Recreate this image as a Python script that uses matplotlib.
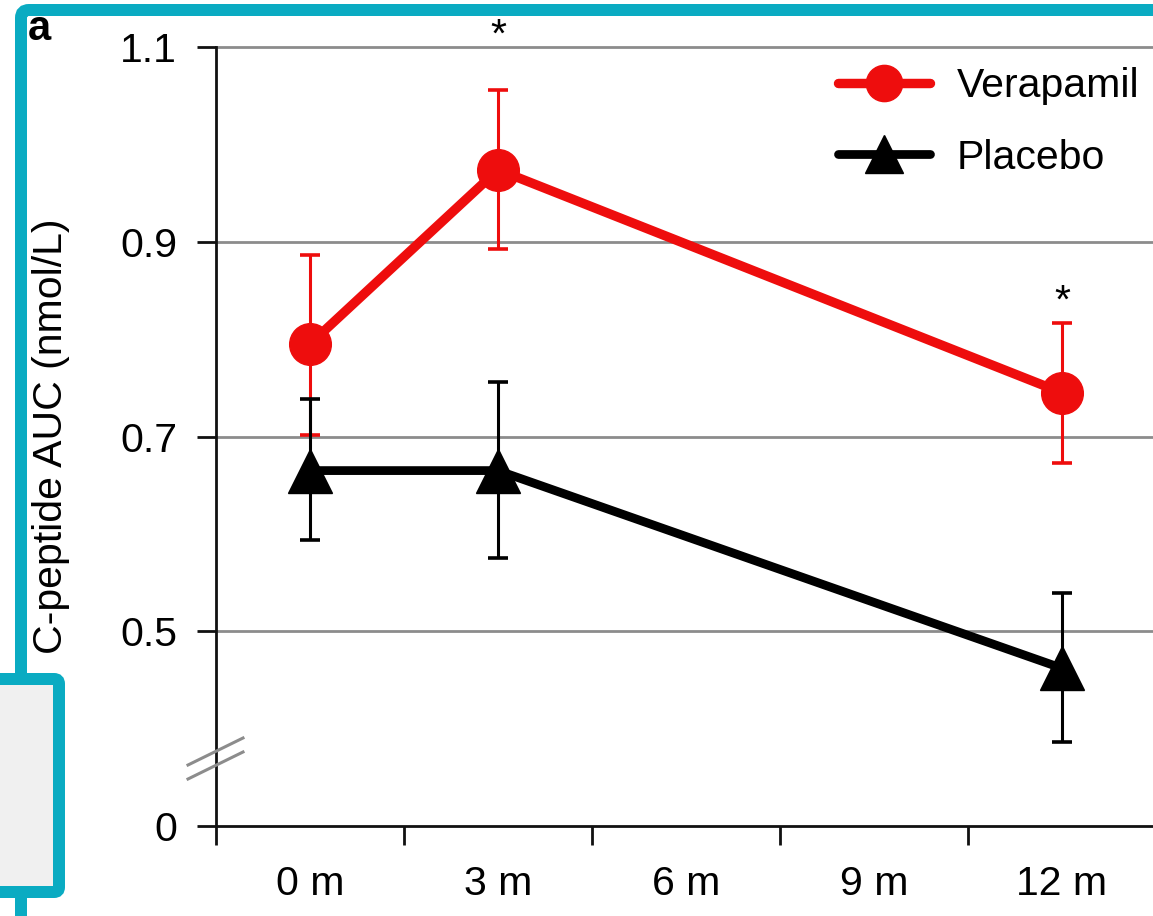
import matplotlib
matplotlib.use("Agg")
import matplotlib.pyplot as plt
from matplotlib.patches import FancyBboxPatch
from matplotlib.lines import Line2D
from matplotlib.transforms import IdentityTransform

plt.rcParams['font.family'] = ['Liberation Sans', 'DejaVu Sans']

# ---------------- data ----------------
categories = ['0 m', '3 m', '6 m', '9 m', '12 m']
visit_months = [0, 3, 12]
verapamil_mean = [0.795, 0.974, 0.745]
verapamil_low = [0.702, 0.893, 0.673]
verapamil_high = [0.886, 1.056, 0.817]
placebo_mean = [0.665, 0.665, 0.462]
placebo_low = [0.594, 0.575, 0.386]
placebo_high = [0.738, 0.756, 0.539]
ytick_values = [0.3, 0.5, 0.7, 0.9, 1.1]
ytick_labels = ['0', '0.5', '0.7', '0.9', '1.1']
sig_months = [3, 12]
sig_y = [1.100, 0.827]

RED = '#ee0d0d'
BLACK = '#000000'
TEAL = '#0aabc2'
W, H = 1153, 916
FS = 29.5

fig = plt.figure(figsize=(W / 100, H / 100), dpi=100)
fig.patch.set_facecolor('white')

ax = fig.add_axes([216 / W, (H - 826) / H, 940 / W, 779 / H])
ax.set_xlim(-0.5, 4.5)
ax.set_ylim(0.3, 1.1)

xpos = [m / 3 for m in visit_months]

def err(mean, lo, hi):
    return [[m - l for m, l in zip(mean, lo)], [h - m for m, h in zip(mean, hi)]]

ax.errorbar(xpos, verapamil_mean, yerr=err(verapamil_mean, verapamil_low, verapamil_high),
            fmt='none', ecolor=RED, elinewidth=2.2, capsize=7.5, capthick=2.6, zorder=2)
ax.errorbar(xpos, placebo_mean, yerr=err(placebo_mean, placebo_low, placebo_high),
            fmt='none', ecolor=BLACK, elinewidth=2.2, capsize=7.5, capthick=2.6, zorder=2.1)
h1, = ax.plot(xpos, verapamil_mean, color=RED, lw=6.8, marker='o', ms=30,
              solid_capstyle='round', label='Verapamil', zorder=3)
h2, = ax.plot(xpos, placebo_mean, color=BLACK, lw=6.3, marker='^', ms=31,
              solid_capstyle='round', label='Placebo', zorder=3.1)

# grid lines
for gy in [0.5, 0.7, 0.9, 1.1]:
    ax.axhline(gy, color='#8c8c8c', lw=2.0, zorder=0, clip_on=False)

# spines
for s in ['top', 'right']:
    ax.spines[s].set_visible(False)
for s in ['left', 'bottom']:
    ax.spines[s].set_linewidth(2.0)
    ax.spines[s].set_color('#111111')

ax.set_yticks(ytick_values)
ax.set_yticklabels(ytick_labels, fontsize=FS)
ax.tick_params(axis='y', length=14, width=2, pad=14, color='#111111')

ax.set_xticks([-0.5, 0.5, 1.5, 2.5, 3.5, 4.5])
ax.set_xticklabels([])
ax.set_xticks(range(len(categories)), minor=True)
ax.set_xticklabels(categories, minor=True, fontsize=FS)
ax.tick_params(axis='x', which='major', length=14, width=2, color='#111111')
ax.tick_params(axis='x', which='minor', length=0, pad=28)

ax.set_ylabel('C-peptide AUC (nmol/L)', fontsize=FS)
ax.yaxis.set_label_coords((70 - 216) / 940, 0.5)

# significance asterisks
for m, yv in zip(sig_months, sig_y):
    ax.text(m / 3, yv, '*', fontsize=FS, ha='center', va='baseline', clip_on=False)

leg = ax.legend(handles=[h1, h2], loc='upper left',
                bbox_to_anchor=(838 / W, 1 - 67 / H), bbox_transform=fig.transFigure,
                frameon=False, fontsize=FS, borderpad=0, borderaxespad=0,
                handlelength=2.25, handletextpad=0.65, labelspacing=0.82,
                markerscale=0.87, numpoints=1)

# axis break marks
def px_line(x0, y0, x1, y1, **kw):
    fig.add_artist(Line2D([x0 / W, x1 / W], [1 - y0 / H, 1 - y1 / H],
                          transform=fig.transFigure, **kw))

px_line(188, 765, 243, 738, color='#8c8c8c', lw=2.2, zorder=5)
px_line(188, 779, 243, 752, color='#8c8c8c', lw=2.2, zorder=5)

# panel label
fig.text(28 / W, 1 - 40 / H, 'a', fontsize=30, fontweight='bold', ha='left', va='baseline')

# screenshot frame overlays (display pixels)
ident = IdentityTransform()
lw_px = 12 * 72 / 100
frame = FancyBboxPatch((21, H - 940), 1170 - 21, 940 - 10,
                       boxstyle='round,pad=0,rounding_size=8',
                       transform=ident, fill=False, edgecolor=TEAL, lw=lw_px, zorder=10)
fig.add_artist(frame)
box = FancyBboxPatch((-20, H - 892), 59 + 20, 892 - 679,
                     boxstyle='round,pad=0,rounding_size=5',
                     transform=ident, facecolor='#f0f0f0', edgecolor=TEAL, lw=lw_px, zorder=11)
fig.add_artist(box)

fig.savefig('out.png', dpi=100)
